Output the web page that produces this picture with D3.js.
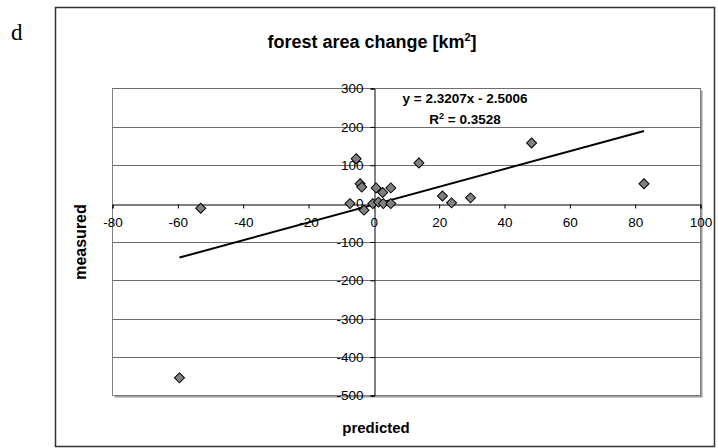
<!DOCTYPE html>
<html>
<head>
<meta charset="utf-8">
<script src="https://cdn.jsdelivr.net/npm/d3@7"></script>
<style>
  html, body { margin: 0; padding: 0; background: #fff; }
  svg { display: block; }
  text { font-family: "Liberation Sans", Arial, sans-serif; fill: #000; }
</style>
</head>
<body>
<svg id="chart" width="718" height="448"></svg>
<script>
// Forest area change: predicted vs. measured (km²)
const predicted = [-59.5, -53, -7.3, -5.4, -4.2, -3.7, -3, -0.3, 0.7, 1.4, 2.7, 2.9, 5.2, 5.2, 13.8, 21, 23.8, 29.6, 48.3, 82.7];
const measured  = [-454, -12, 0, 117, 52, 43, -17, 0, 41, 4, 29, 0, 41, 0, 106, 20, 2, 15, 158, 52];

const slope = 2.3207;
const intercept = -2.5006;
const rSquared = 0.3528;

const xTicks = [-80, -60, -40, -20, 0, 20, 40, 60, 80, 100];
const yTicks = [-500, -400, -300, -200, -100, 0, 100, 200, 300];

const titleText = "forest area change [km";
const xTitle = "predicted";
const yTitle = "measured";
const panelLabel = "d";

const svg = d3.select("#chart");

// Outer chart frame
svg.append("rect")
  .attr("x", 55.5).attr("y", 7.5)
  .attr("width", 659).attr("height", 439)
  .attr("fill", "none").attr("stroke", "#333").attr("stroke-width", 1.5);

svg.append("text")
  .attr("x", 11).attr("y", 40)
  .style("font-family", "'Liberation Serif', 'Times New Roman', serif")
  .style("font-size", "23px")
  .text(panelLabel);

const plot = { left: 112.5, right: 700.5, top: 88.5, bottom: 395.5 };

const x = d3.scaleLinear().domain([-80, 100]).range([plot.left, plot.right]);
const y = d3.scaleLinear().domain([-500, 300]).range([plot.bottom, plot.top]);

// Plot area shadow and border
svg.append("rect")
  .attr("x", plot.left + 2).attr("y", plot.top + 2)
  .attr("width", plot.right - plot.left).attr("height", plot.bottom - plot.top)
  .attr("fill", "#9a9a9a");
svg.append("rect")
  .attr("x", plot.left).attr("y", plot.top)
  .attr("width", plot.right - plot.left).attr("height", plot.bottom - plot.top)
  .attr("fill", "#fff").attr("stroke", "#808080").attr("stroke-width", 1);

// Horizontal gridlines
svg.append("g")
  .selectAll("line")
  .data(yTicks.filter(d => d > -500 && d < 300 && d !== 0))
  .join("line")
  .attr("x1", plot.left).attr("x2", plot.right)
  .attr("y1", d => Math.round(y(d)) + 0.5).attr("y2", d => Math.round(y(d)) + 0.5)
  .attr("stroke", "#6e6e6e").attr("stroke-width", 1);
svg.append("line")
  .attr("x1", plot.left).attr("x2", plot.right)
  .attr("y1", plot.top).attr("y2", plot.top)
  .attr("stroke", "#6e6e6e");

const plainNumber = d => String(d);

// X axis crossing at y = 0
const xAxis = d3.axisBottom(x).tickValues(xTicks).tickSize(4).tickPadding(9).tickFormat(plainNumber);
const gx = svg.append("g")
  .attr("transform", `translate(0,${Math.round(y(0)) + 0.5})`)
  .call(xAxis);
gx.select(".domain").attr("stroke", "#000");
gx.selectAll(".tick line").attr("stroke", "#000");
gx.selectAll(".tick text")
  .style("font-family", "'Liberation Sans', Arial, sans-serif")
  .style("font-size", "13.5px").attr("fill", "#000");

// Y axis crossing at x = 0
const yAxis = d3.axisLeft(y).tickValues(yTicks).tickSize(4).tickPadding(7).tickFormat(plainNumber);
const gy = svg.append("g")
  .attr("transform", `translate(${Math.round(x(0)) + 0.5},0)`)
  .call(yAxis);
gy.select(".domain").attr("stroke", "#000");
gy.selectAll(".tick line").attr("stroke", "#000");
gy.selectAll(".tick text")
  .style("font-family", "'Liberation Sans', Arial, sans-serif")
  .style("font-size", "13.5px").attr("fill", "#000");

// Linear trendline over the range of predicted values
const xMin = d3.min(predicted), xMax = d3.max(predicted);
svg.append("line")
  .attr("x1", x(xMin)).attr("y1", y(slope * xMin + intercept))
  .attr("x2", x(xMax)).attr("y2", y(slope * xMax + intercept))
  .attr("stroke", "#000").attr("stroke-width", 2);

// Diamond markers
const diamond = d3.symbol().type(d3.symbolSquare).size(50);
svg.append("g")
  .selectAll("path")
  .data(predicted.map((p, i) => [p, measured[i]]))
  .join("path")
  .attr("d", diamond)
  .attr("transform", d => `translate(${x(d[0])},${y(d[1])}) rotate(45)`)
  .attr("fill", "#808080").attr("stroke", "#000").attr("stroke-width", 1);

// Regression equation
const eq = svg.append("g").attr("font-weight", "bold").style("font-size", "13.5px");
eq.append("text")
  .attr("x", 465).attr("y", 103).attr("text-anchor", "middle")
  .text(`y = ${slope.toFixed(4)}x - ${Math.abs(intercept).toFixed(4)}`);
const r2 = eq.append("text").attr("x", 465).attr("y", 124).attr("text-anchor", "middle");
r2.append("tspan").text("R");
r2.append("tspan").attr("dy", -5).style("font-size", "9px").text("2");
r2.append("tspan").attr("dy", 5).text(` = ${rSquared.toFixed(4)}`);

// Title
const t = svg.append("text")
  .attr("x", 372).attr("y", 48).attr("text-anchor", "middle")
  .attr("font-weight", "bold").style("font-size", "18px");
t.append("tspan").text(titleText);
t.append("tspan").attr("dy", -7).style("font-size", "11px").text("2");
t.append("tspan").attr("dy", 7).text("]");

// Axis titles
svg.append("text")
  .attr("x", 376).attr("y", 433).attr("text-anchor", "middle")
  .attr("font-weight", "bold").style("font-size", "15px")
  .text(xTitle);
svg.append("text")
  .attr("transform", `translate(86,242) rotate(-90)`)
  .attr("text-anchor", "middle")
  .attr("font-weight", "bold").style("font-size", "16px")
  .text(yTitle);
</script>
</body>
</html>
